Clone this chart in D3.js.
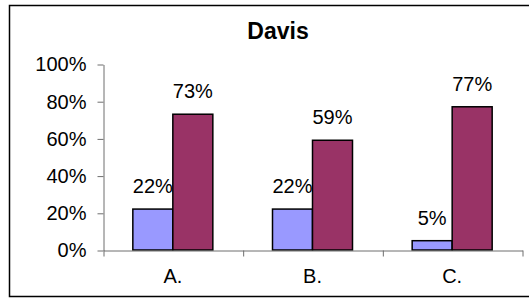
<!DOCTYPE html>
<html>
<head>
<meta charset="utf-8">
<script src="https://cdn.jsdelivr.net/npm/d3@7"></script>
<style>
  html, body { margin: 0; background: #fff; overflow: hidden; }
  svg { display: block; font-family: "Liberation Sans", Arial, sans-serif; }
</style>
</head>
<body>
<svg id="chart"></svg>
<script>
const categories = ['A.', 'B.', 'C.'];
const seriesKeys = ['first', 'second'];
const firstValues = [0.22, 0.22, 0.05];
const secondValues = [0.73, 0.59, 0.77];
const yTicks = [0, 0.2, 0.4, 0.6, 0.8, 1.0];
const title = 'Davis';

const width = 529;
const height = 299;
const colors = { first: '#9999ff', second: '#993366' };

const rows = categories.map((c, i) => ({ cat: c, first: firstValues[i], second: secondValues[i] }));

const svg = d3.select('#chart')
  .attr('width', width)
  .attr('height', height);

// outer frame (right edge falls outside the picture)
svg.append('path')
  .attr('d', `M${width + 5},5.5H9.5V296.5H${width + 5}`)
  .attr('fill', 'none')
  .attr('stroke', '#000')
  .attr('stroke-width', 1.5);

const plot = { left: 103, right: 522, top: 64, bottom: 250 };

const x = d3.scaleBand()
  .domain(categories)
  .range([plot.left, plot.right])
  .padding(0);

const groupWidth = 80;
const xInner = d3.scaleBand()
  .domain(seriesKeys)
  .range([0, groupWidth]);

const y = d3.scaleLinear()
  .domain([0, 1])
  .range([plot.bottom, plot.top]);

// title
svg.append('text')
  .attr('x', 278).attr('y', 39)
  .attr('text-anchor', 'middle')
  .attr('font-size', 23)
  .attr('font-weight', 'bold')
  .text(title);

// y axis
const yAxis = svg.append('g')
  .attr('transform', `translate(${plot.left + 0.5},0.5)`)
  .call(d3.axisLeft(y)
    .tickValues(yTicks)
    .tickFormat(d3.format('.0%'))
    .tickSize(6)
    .tickSizeOuter(0)
    .tickPadding(11));
yAxis.selectAll('path, line').attr('stroke', '#6e6e6e');
yAxis.selectAll('text')
  .attr('font-size', 20)
  .attr('fill', '#000')
  .attr('font-family', '"Liberation Sans", Arial, sans-serif');

// bars
const groups = svg.append('g').selectAll('g')
  .data(rows)
  .join('g')
  .attr('transform', d => `translate(${x(d.cat) + (x.bandwidth() - groupWidth) / 2},0)`);

groups.selectAll('rect')
  .data(d => seriesKeys.map(k => ({ key: k, value: d[k] })))
  .join('rect')
  .attr('x', d => xInner(d.key))
  .attr('y', d => y(d.value))
  .attr('width', xInner.bandwidth())
  .attr('height', d => y(0) - y(d.value))
  .attr('fill', d => colors[d.key])
  .attr('stroke', '#000')
  .attr('stroke-width', 1.5);

groups.selectAll('text')
  .data(d => seriesKeys.map(k => ({ key: k, value: d[k] })))
  .join('text')
  .attr('x', d => xInner(d.key) + xInner.bandwidth() / 2)
  .attr('y', d => y(d.value) - 16)
  .attr('text-anchor', 'middle')
  .attr('font-size', 20)
  .text(d => d3.format('.0%')(d.value));

// x axis: boundary ticks
const xEdges = d3.scaleLinear()
  .domain([0, categories.length])
  .range([plot.left, plot.right]);
const xAxis = svg.append('g')
  .attr('transform', `translate(0.5,${plot.bottom + 0.5})`)
  .call(d3.axisBottom(xEdges)
    .tickValues(d3.range(categories.length + 1))
    .tickFormat('')
    .tickSize(6)
    .tickSizeOuter(0));
xAxis.selectAll('path, line').attr('stroke', '#6e6e6e');

// category labels
svg.append('g').selectAll('text')
  .data(categories)
  .join('text')
  .attr('x', d => x(d) + x.bandwidth() / 2)
  .attr('y', 283)
  .attr('text-anchor', 'middle')
  .attr('font-size', 20)
  .text(d => d);
</script>
</body>
</html>
